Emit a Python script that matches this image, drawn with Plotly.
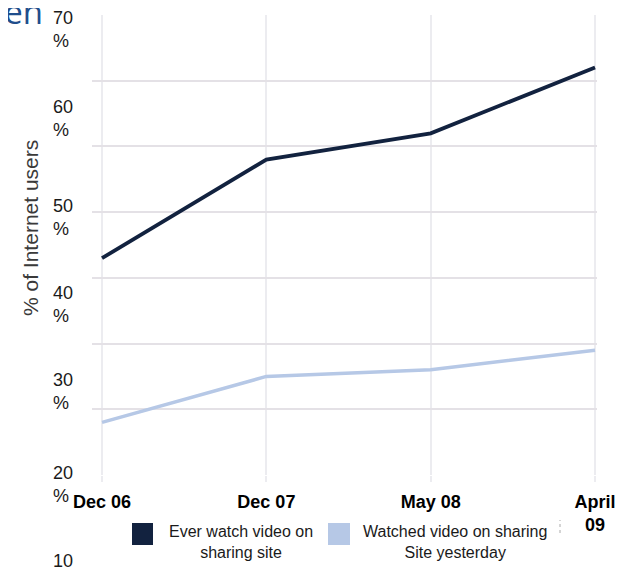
import plotly.graph_objects as go

# ---- data ----
periods = ["Dec 06", "Dec 07", "May 08", "April 09"]
period_labels = ["Dec 06", "Dec 07", "May 08", "April<br>09"]
ever_watch = [33, 48, 52, 62]
watched_yesterday = [8, 15, 16, 19]
series_names = ["Ever watch video on<br>sharing site", "Watched video on sharing<br>Site yesterday"]
y_tick_labels = ["70<br>%", "60<br>%", "50<br>%", "40<br>%", "30<br>%", "20<br>%", "10"]

DARK = "#12223f"
LIGHT = "#b6c8e6"

# page body has an 8px margin: lay the figure out in window pixels minus that offset
OFF = 8
W, H = 626 - OFF, 573 - OFF
ML, MT = 92 - OFF, 15 - OFF
PW, PH = 505, 460
MR, MB = W - ML - PW, H - MT - PH


def px(xp):
    return (xp - OFF - ML) / PW


def py(yp):
    return (MT + PH - (yp - OFF)) / PH


fig = go.Figure()
xi = list(range(len(periods)))
fig.add_trace(go.Scatter(x=xi, y=ever_watch, mode="lines", name=series_names[0],
                         line=dict(color=DARK, width=3.8), showlegend=False, cliponaxis=False))
fig.add_trace(go.Scatter(x=xi, y=watched_yesterday, mode="lines", name=series_names[1],
                         line=dict(color=LIGHT, width=3.5), showlegend=False, cliponaxis=False))

annotations = []
# misplaced y tick labels (as in the original)
label_centers = [29, 118, 217, 304, 391, 484, 561]
for txt, yc in zip(y_tick_labels, label_centers):
    annotations.append(dict(text=txt, x=px(51), y=py(yc), xref="paper", yref="paper",
                            xanchor="left", yanchor="middle", showarrow=False, align="left",
                            font=dict(family="Arial, Liberation Sans", size=18, color="#1a1a1a")))
# y title
annotations.append(dict(text="% of Internet users", x=px(30), y=py(228), xref="paper", yref="paper",
                        textangle=-90, showarrow=False, xanchor="center", yanchor="middle",
                        font=dict(family="Arial, Liberation Sans", size=21, color="#3a3a3a")))
# partial title top-left
annotations.append(dict(text="ken", x=px(45), y=py(36), xref="paper", yref="paper",
                        xanchor="right", yanchor="bottom", showarrow=False,
                        font=dict(family="Open Sans", size=33, color="#1f4e8c")))
# legend text
legend_text_x = [241, 455]
for txt, xc in zip(series_names, legend_text_x):
    annotations.append(dict(text=txt, x=px(xc), y=py(542), xref="paper", yref="paper",
                            xanchor="center", yanchor="middle", showarrow=False, align="center",
                            font=dict(family="Arial, Liberation Sans", size=16, color="#1a1a1a")))

shapes = []
for (x0, x1), c in zip([(132, 153), (328, 350)], [DARK, LIGHT]):
    shapes.append(dict(type="rect", xref="paper", yref="paper", x0=px(x0), x1=px(x1),
                       y0=py(545), y1=py(523), fillcolor=c, line=dict(width=0)))
shapes.append(dict(type="line", xref="paper", yref="paper", x0=px(560), x1=px(560),
                   y0=py(533), y1=py(520), line=dict(color="#aaaaaa", width=1, dash="dot")))

fig.update_layout(
    width=W, height=H, autosize=False,
    margin=dict(l=ML, r=MR, t=MT, b=MB, pad=0),
    paper_bgcolor="white", plot_bgcolor="white",
    annotations=annotations, shapes=shapes,
    xaxis=dict(range=[-0.061, 3.012], tickvals=xi, ticktext=period_labels,
               showgrid=True, gridcolor="#ececf0", gridwidth=1.5,
               ticks="outside", ticklen=6, tickcolor="#ececf0", tickwidth=1.5,
               ticklabelstandoff=4,
               zeroline=False, showline=False,
               tickfont=dict(family="Arial, Liberation Sans", size=18, color="#000000", weight="bold")),
    yaxis=dict(range=[0, 70], dtick=10, showgrid=True, gridcolor="#e4e1e6", gridwidth=2,
               showticklabels=False, zeroline=False, showline=False),
)

fig.write_html("out.html")
